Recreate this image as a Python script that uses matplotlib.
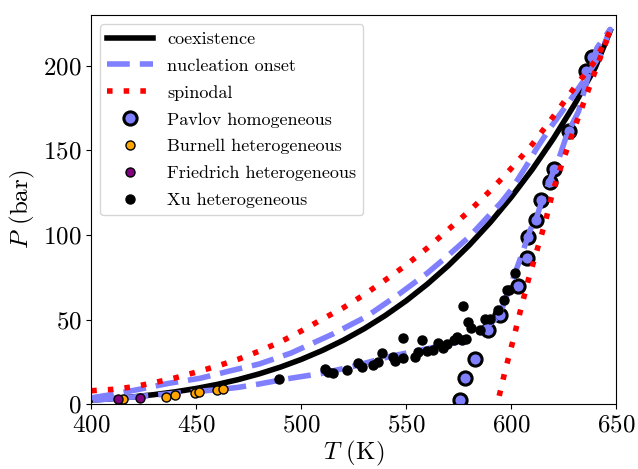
import numpy as np
import matplotlib
matplotlib.use("Agg")
import matplotlib.pyplot as plt

plt.rcParams['font.family'] = 'serif'
plt.rcParams['font.serif'] = ['cmr10']
plt.rcParams['mathtext.fontset'] = 'cm'
plt.rcParams['axes.formatter.use_mathtext'] = True
plt.rcParams['axes.unicode_minus'] = False

# coexistence (saturation) curve
T_coex = [400, 410, 420, 430, 440, 450, 460, 470, 480, 490, 500, 510, 520, 530,
          540, 550, 560, 570, 580, 590, 600, 610, 620, 630, 640, 647.1]
P_coex = [2.46, 3.30, 4.37, 5.71, 7.35, 9.34, 11.74, 14.60, 17.98, 21.93, 26.51,
          31.79, 37.82, 44.69, 52.46, 61.20, 70.99, 81.91, 94.04, 107.5, 122.4,
          138.8, 156.9, 176.9, 199.0, 220.6]

# nucleation onset, upper and lower branch
T_nuc_up = [400, 410, 423, 437, 452, 466, 480, 495, 515, 531, 547, 560, 570, 580,
            589, 595, 600, 607, 612, 618.5, 626.5, 634.4, 642.4, 647.1]
P_nuc_up = [3.8, 5.8, 8.9, 12.4, 15.4, 19.7, 23.8, 30.2, 41.5, 51.8, 65.5, 77.5,
            88.0, 99.0, 111.0, 119.0, 126.8, 140.5, 151.0, 163.3, 177.0, 191.0,
            206.7, 221.5]
T_nuc_lo = [400, 420, 440, 460, 470, 480, 493, 510, 525, 542, 561, 579, 588, 593,
            596, 599.5, 605.8, 609, 612.2, 615.3, 618.5, 622.5, 626.5, 632, 636,
            640.8, 647.1]
P_nuc_lo = [2.3, 4.3, 6.5, 8.6, 10.0, 12.0, 15.0, 18.3, 22.5, 28.2, 33.1, 38.0,
            45.5, 51.0, 58.0, 69.6, 91.3, 103.0, 111.0, 122.8, 132.7, 144.6, 159.4,
            173.0, 191.0, 210.6, 221.5]

# spinodal, upper and lower branch
T_spin_up = [400, 410, 420, 430, 440, 450, 460, 470, 480, 490, 500, 510, 520, 530,
             540, 550, 560, 570, 580, 590, 600, 610, 620, 630, 640, 647.1]
P_spin_up = [8.0, 8.8, 10.3, 12.8, 15.6, 19.0, 22.6, 26.6, 31.4, 36.8, 43.3, 50.3,
             57.0, 64.8, 73.4, 82.3, 92.3, 103.2, 114.2, 126.2, 139.4, 153.6, 170.0,
             187.0, 203.0, 220.6]
T_spin_lo = [591.5, 593.3, 597.1, 600.9, 604.2, 608.1, 612.3, 616.2, 620, 624.8,
             630, 635, 640, 647.1]
P_spin_lo = [-8, 0, 20, 38, 54.6, 73.5, 91.3, 107.8, 126.8, 144.6, 163, 180, 197,
             220.6]

# measurements
T_pavlov = [575.6, 578.0, 582.7, 589.1, 594.7, 603.4, 607.4, 607.9, 611.9, 614.2,
            618.2, 620.5, 627.7, 635.7, 638.4]
P_pavlov = [2.5, 15.4, 26.8, 44.0, 52.8, 69.6, 86.4, 98.8, 109.0, 120.9, 131.1,
            139.0, 161.3, 197.2, 205.1]
T_burnell = [414.9, 435.4, 439.8, 449.3, 451.4, 459.7, 462.8]
P_burnell = [3.0, 4.5, 5.3, 6.7, 7.3, 8.5, 9.1]
T_friedrich = [412.9, 423.1]
P_friedrich = [3.3, 4.0]
T_xu = [489.6, 511.3, 512.9, 515.2, 521.6, 527.2, 528.8, 534.3, 536.7, 538.3, 543.9,
        544.7, 548.6, 548.6, 554.2, 555.8, 557.4, 559.8, 562.9, 565.3, 567.7, 569.3,
        572.5, 574.1, 576.5, 576.9, 578.5, 579.6, 580.7, 585.2, 587.5, 589.9, 593.9,
        596.3, 597.9, 598.7, 601.9]
P_xu = [14.8, 20.7, 19.3, 18.7, 20.3, 24.6, 21.9, 23.3, 25.2, 30.2, 27.8, 25.6,
        39.0, 27.2, 28.2, 31.1, 38.0, 31.7, 32.1, 36.1, 33.1, 35.7, 38.0, 40.0, 38.0,
        57.8, 38.5, 48.9, 45.0, 44.0, 50.3, 50.3, 55.8, 61.7, 67.6, 67.6, 77.5]

blue = '#8080ff'

fig, ax = plt.subplots(figsize=(6.38, 4.69), dpi=100)
fig.subplots_adjust(left=0.143, right=0.966, top=0.968, bottom=0.138)

ax.plot(T_coex, P_coex, color='black', lw=4, label='coexistence', zorder=2)
T_nuc = T_nuc_up + T_nuc_lo[::-1]
P_nuc = P_nuc_up + P_nuc_lo[::-1]
ax.plot(T_nuc, P_nuc, color=blue, lw=4, linestyle=(0, (4.1, 1.8)),
        label='nucleation onset', zorder=2)
T_spin = T_spin_up + T_spin_lo[::-1]
P_spin = P_spin_up + P_spin_lo[::-1]
ax.plot(T_spin, P_spin, color='red', lw=4, linestyle=(0, (1, 2)),
        label='spinodal', zorder=2)

ax.plot(T_pavlov, P_pavlov, 'o', ms=9.5, mfc=blue, mec='black', mew=2.2,
        label='Pavlov homogeneous', zorder=1)
ax.plot(T_burnell, P_burnell, 'o', ms=6.5, mfc='orange', mec='black', mew=1,
        label='Burnell heterogeneous', zorder=3)
ax.plot(T_friedrich, P_friedrich, 'o', ms=6.5, mfc='purple', mec='black', mew=1,
        label='Friedrich heterogeneous', zorder=3)
ax.plot(T_xu, P_xu, 'o', ms=6.5, mfc='black', mec='black', mew=1,
        label='Xu heterogeneous', zorder=3)

ax.set_xlim(400, 650)
ax.set_ylim(0, 230)
ax.set_xticks([400, 450, 500, 550, 600, 650])
ax.set_yticks([0, 50, 100, 150, 200])
ax.tick_params(labelsize=18)
ax.set_xlabel(r'$T$ (K)', fontsize=18, labelpad=2)
ax.set_ylabel(r'$P$ (bar)', fontsize=18)
ax.legend(loc='upper left', fontsize=13, handlelength=2.5, labelspacing=0.62)

fig.savefig('out.png', dpi=100)
